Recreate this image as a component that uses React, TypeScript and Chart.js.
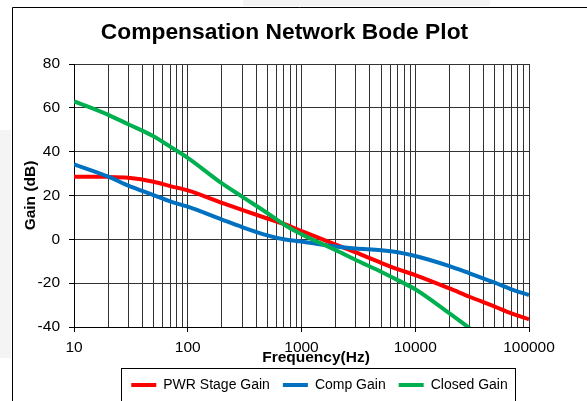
import React, { useEffect, useRef } from 'react';
import { Chart, registerables } from 'chart.js';

Chart.register(...registerables);

// ---- data ----
const frequencies = [10, 20, 30, 50, 70, 100, 200, 300, 500, 700, 1000, 2000, 3000, 5000, 7000, 10000, 20000, 30000, 50000, 70000, 100000];
const pwrStageGain = [28.6, 28.5, 28.1, 26.3, 24.3, 22.3, 16.6, 13.4, 9.5, 7.0, 3.8, -2.4, -6.0, -10.7, -13.6, -16.3, -22.4, -26.2, -30.7, -33.8, -36.5];
const compGain = [34.2, 28.6, 24.5, 20.2, 17.3, 14.9, 9.0, 5.6, 1.8, 0.0, -1.0, -3.3, -4.2, -5.0, -5.9, -7.6, -12.2, -15.5, -19.8, -22.8, -25.4];
const closedGain = [63.0, 56.8, 52.5, 47.0, 42.3, 37.2, 25.5, 19.5, 12.0, 6.8, 2.3, -4.9, -9.4, -14.8, -18.6, -22.8, -33.8, -40.5, null, null, null];

const seriesLabels = ['PWR Stage Gain', 'Comp Gain', 'Closed Gain'];
const seriesColors = ['#ff0000', '#0070c0', '#00b050'];

const yMin = -40;
const yMax = 80;
const yStep = 20;
const xMajorTicks = [10, 100, 1000, 10000, 100000];
const xMinorMultipliers = [2, 3, 4, 5, 6, 7, 8, 9];

const chartTitle = 'Compensation Network Bode Plot';
const xAxisTitle = 'Frequency(Hz)';
const yAxisTitle = 'Gain (dB)';

const FONT = '"Liberation Sans", Arial, Helvetica, sans-serif';
const W = 587;
const H = 401;
const AREA = { left: 74, top: 64, right: 529, bottom: 327 };
const GRID = '#333333';

const toPoints = (vals: (number | null)[]) =>
  frequencies
    .map((f, i) => ({ x: f, y: vals[i] }))
    .filter((p) => p.y !== null) as { x: number; y: number }[];

const layoutPlugin = {
  id: 'fixedLayout',
  afterLayout(chart: any) {
    const { left, top, right, bottom } = AREA;
    chart.chartArea = { left, top, right, bottom, width: right - left, height: bottom - top };
    const x = chart.scales.x;
    const y = chart.scales.y;
    x.left = left; x.right = right; x.width = right - left;
    x.top = bottom; x.bottom = bottom + 45; x.height = 45;
    y.left = 0; y.right = left; y.width = left;
    y.top = top; y.bottom = bottom; y.height = bottom - top;
    x.configure();
    y.configure();
    const lg = chart.legend;
    if (lg) {
      lg.left = 111; lg.right = 528; lg.width = 417;
      lg.top = 365; lg.bottom = 430; lg.height = 65;
    }
  },
};

const decorPlugin = {
  id: 'decor',
  beforeDraw(chart: any) {
    const ctx = chart.ctx as CanvasRenderingContext2D;
    ctx.save();
    ctx.fillStyle = '#ffffff';
    ctx.fillRect(0, 0, W, H);
    ctx.fillStyle = '#f4f4f4';
    ctx.fillRect(0, 130, 11, 228);
    ctx.fillRect(243, 0, 247, 6);
    ctx.strokeStyle = '#000';
    ctx.lineWidth = 1;
    ctx.beginPath();
    ctx.moveTo(12.5, H);
    ctx.lineTo(12.5, 7.5);
    ctx.lineTo(W, 7.5);
    ctx.stroke();
    ctx.restore();
  },
  afterDraw(chart: any) {
    const ctx = chart.ctx as CanvasRenderingContext2D;
    ctx.save();
    ctx.fillStyle = '#000';
    ctx.textAlign = 'center';
    ctx.textBaseline = 'alphabetic';
    ctx.font = `bold 22.8px ${FONT}`;
    ctx.fillText(chartTitle, 284.5, 39);
    ctx.font = `bold 15.5px ${FONT}`;
    ctx.fillText(xAxisTitle, 316, 362);
    ctx.strokeStyle = '#000';
    ctx.lineWidth = 1;
    ctx.strokeRect(121.5, 368.5, 394, 60);
    ctx.restore();
  },
};

export default function App() {
  const ref = useRef<HTMLCanvasElement>(null);
  useEffect(() => {
    if (!ref.current) return;
    Chart.defaults.font.family = FONT;
    Chart.defaults.color = '#000';
    const datasets = [pwrStageGain, compGain, closedGain].map((vals, i) => ({
      label: seriesLabels[i],
      data: toPoints(vals),
      borderColor: seriesColors[i],
      backgroundColor: seriesColors[i],
      borderWidth: 4,
      pointRadius: 0,
      cubicInterpolationMode: 'monotone' as const,
      fill: false,
      clip: 0,
      order: 3 - i,
    }));
    const chart = new Chart(ref.current, {
      type: 'line',
      data: { datasets },
      plugins: [layoutPlugin, decorPlugin],
      options: {
        animation: false,
        responsive: false,
        devicePixelRatio: 1,
        events: [],
        layout: { padding: { left: 0, right: 58, top: 64, bottom: 0 } },
        scales: {
          x: {
            type: 'logarithmic',
            min: xMajorTicks[0],
            max: xMajorTicks[xMajorTicks.length - 1],
            afterBuildTicks: (axis: any) => {
              const ticks: { value: number; major: boolean }[] = [];
              xMajorTicks.forEach((d, i) => {
                ticks.push({ value: d, major: true });
                if (i < xMajorTicks.length - 1) {
                  xMinorMultipliers.forEach((m) => ticks.push({ value: d * m, major: false }));
                }
              });
              axis.ticks = ticks;
            },
            ticks: {
              autoSkip: false,
              maxRotation: 0,
              minRotation: 0,
              padding: 6,
              color: '#000',
              font: { size: 15.5, family: FONT },
              callback: (value: any, index: number, ticks: any[]) =>
                ticks[index] && ticks[index].major ? String(value) : '',
            },
            grid: {
              color: GRID,
              lineWidth: 1,
              tickLength: 5,
              tickColor: (ctx: any) => (ctx.tick && ctx.tick.major ? '#000' : 'rgba(0,0,0,0)'),
            },
            border: { color: '#000', width: 1 },
          },
          y: {
            type: 'linear',
            min: yMin,
            max: yMax,
            ticks: {
              stepSize: yStep,
              padding: 9,
              color: '#000',
              font: { size: 15.5, family: FONT },
            },
            grid: { color: GRID, lineWidth: 1, tickLength: 5, tickColor: '#000' },
            border: { color: '#000', width: 1 },
            title: {
              display: true,
              text: yAxisTitle,
              color: '#000',
              font: { size: 15.5, weight: 'bold', family: FONT },
              padding: { top: 21.5, bottom: 0 },
            },
          },
        },
        plugins: {
          tooltip: { enabled: false },
          title: { display: false },
          legend: {
            display: true,
            position: 'bottom',
            labels: {
              boxWidth: 25,
              boxHeight: 4,
              padding: 13,
              color: '#000',
              font: { size: 14, family: FONT },
              sort: (a: any, b: any) => a.datasetIndex - b.datasetIndex,
              generateLabels: (c: any) =>
                Chart.defaults.plugins.legend.labels
                  .generateLabels(c)
                  .map((l: any) => ({ ...l, lineWidth: 0, fillStyle: l.strokeStyle }))
                  .sort((a: any, b: any) => a.datasetIndex - b.datasetIndex),
            },
          },
        },
      } as any,
    });
    return () => chart.destroy();
  }, []);
  return (
    <div style={{ position: 'absolute', left: 0, top: 0, width: W, height: H, overflow: 'hidden', background: '#fff' }}>
      <canvas ref={ref} width={W} height={H} style={{ display: 'block', width: W, height: H }} />
    </div>
  );
}
